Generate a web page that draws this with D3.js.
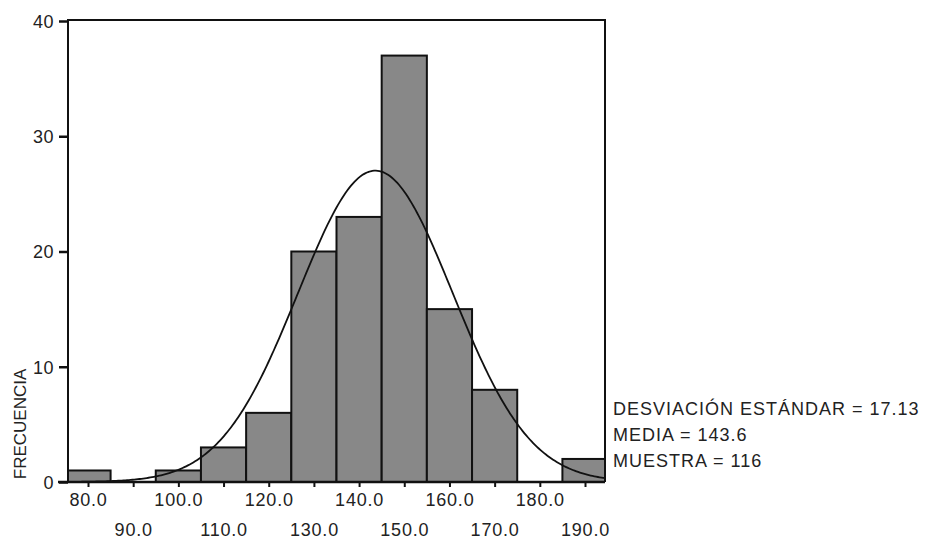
<!DOCTYPE html>
<html><head><meta charset="utf-8">
<script src="https://cdn.jsdelivr.net/npm/d3@7"></script>
<style>body{margin:0;background:#fff}</style>
</head><body>
<svg id="c" width="928" height="541"></svg>
<script>
// ---- data ----
const binStarts = [75, 85, 95, 105, 115, 125, 135, 145, 155, 165, 175, 185];
const binMids   = [80, 90, 100, 110, 120, 130, 140, 150, 160, 170, 180, 190];
const counts    = [1, 0, 1, 3, 6, 20, 23, 37, 15, 8, 0, 2];
const xTickLabels = ["80.0","90.0","100.0","110.0","120.0","130.0","140.0","150.0","160.0","170.0","180.0","190.0"];
const yTicks = [0, 10, 20, 30, 40];
const binWidth = 10;
const stdDev = 17.13;
const mean = 143.6;
const sampleN = 116;
const statLabels = ["DESVIACIÓN ESTÁNDAR = 17.13", "MEDIA = 143.6", "MUESTRA = 116"];
const yTitle = "FRECUENCIA";

// ---- layout ----
const L = 68, R = 605, T = 20, B = 482;
const svg = d3.select("#c");
const font = "'Liberation Sans', Arial, sans-serif";
const x = d3.scaleLinear().domain([80, 190]).range([88, 585]);
const y = d3.scaleLinear().domain([0, 40]).range([B, 21]);

svg.append("defs").append("clipPath").attr("id", "plot")
  .append("rect").attr("x", L).attr("y", T - 2).attr("width", R - L).attr("height", B - T + 4);

const g = svg.append("g").attr("clip-path", "url(#plot)");

const bins = binStarts.map((s, i) => ({ s, c: counts[i] })).filter(d => d.c > 0);
g.selectAll("rect.bar").data(bins).enter().append("rect")
  .attr("class", "bar")
  .attr("x", d => x(d.s))
  .attr("width", d => x(d.s + binWidth) - x(d.s))
  .attr("y", d => y(d.c))
  .attr("height", d => y(0) - y(d.c))
  .attr("fill", "#888888")
  .attr("stroke", "#111")
  .attr("stroke-width", 2);

// normal curve from stated statistics
const x0 = x.invert(L), x1 = x.invert(R);
const pts = d3.range(0, 301).map(i => {
  const v = x0 + (x1 - x0) * i / 300;
  const dens = sampleN * binWidth / (stdDev * Math.sqrt(2 * Math.PI)) *
    Math.exp(-0.5 * Math.pow((v - mean) / stdDev, 2));
  return [v, dens];
});
g.append("path").datum(pts)
  .attr("d", d3.line().x(d => x(d[0])).y(d => y(d[1])))
  .attr("fill", "none").attr("stroke", "#111").attr("stroke-width", 1.8);

// frame
svg.append("path")
  .attr("d", `M${L},${B}V${T}H${R}V${B}`)
  .attr("fill", "none").attr("stroke", "#111").attr("stroke-width", 2);
svg.append("line").attr("x1", 58).attr("x2", R).attr("y1", B).attr("y2", B)
  .attr("stroke", "#111").attr("stroke-width", 2.5);

// y axis
const yAx = svg.append("g").attr("transform", `translate(${L},0)`)
  .call(d3.axisLeft(y).tickValues(yTicks).tickSize(9).tickPadding(5).tickFormat(d3.format("d")));
yAx.select(".domain").remove();
yAx.selectAll("line").attr("stroke", "#111").attr("stroke-width", 2.5);
yAx.selectAll("text").attr("font-family", font).attr("font-size", 18)
  .attr("letter-spacing", 0.5).attr("fill", "#222").attr("dy", "0.35em");

// x axis
const xAx = svg.append("g").attr("transform", `translate(0,${B})`)
  .call(d3.axisBottom(x).tickValues(binMids).tickSize(5)
    .tickFormat((d, i) => xTickLabels[i]));
xAx.select(".domain").remove();
xAx.selectAll("line").attr("stroke", "#111").attr("stroke-width", 2);
xAx.selectAll("text").attr("font-family", font).attr("font-size", 18)
  .attr("letter-spacing", 0.8).attr("fill", "#222")
  .attr("dy", null)
  .attr("y", (d, i) => i % 2 === 0 ? 24 : 54);

// y title
svg.append("text").attr("transform", "translate(26,424) rotate(-90)")
  .attr("text-anchor", "middle").attr("font-family", font).attr("font-size", 17)
  .attr("fill", "#222").text(yTitle);

// stats
svg.selectAll("text.stat").data(statLabels).enter().append("text")
  .attr("class", "stat")
  .attr("x", 613).attr("y", (d, i) => 415 + i * 26)
  .attr("font-family", font).attr("font-size", 18).attr("letter-spacing", 1)
  .attr("fill", "#222").text(d => d);
</script>
</body></html>
